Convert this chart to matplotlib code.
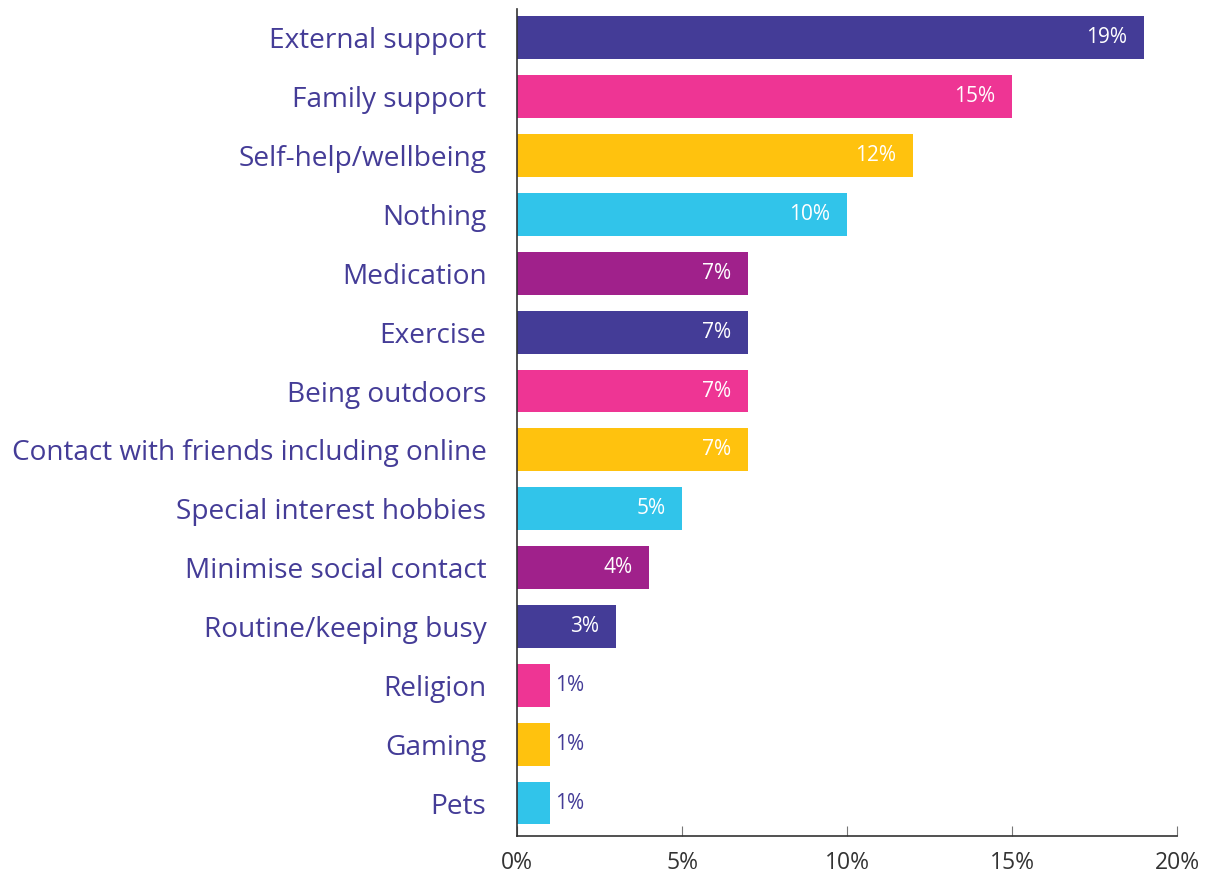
import matplotlib.pyplot as plt

categories = ["External support", "Family support", "Self-help/wellbeing", "Nothing",
              "Medication", "Exercise", "Being outdoors",
              "Contact with friends including online", "Special interest hobbies",
              "Minimise social contact", "Routine/keeping busy", "Religion",
              "Gaming", "Pets"]
values = [19, 15, 12, 10, 7, 7, 7, 7, 5, 4, 3, 1, 1, 1]
palette = ["#443C97", "#EE3594", "#FFC20E", "#31C4EA", "#A0218B"]
ticks = [0, 5, 10, 15, 20]

navy = "#443C97"
plt.rcParams['font.family'] = ['Open Sans', 'DejaVu Sans']

fig = plt.figure(figsize=(12.12, 8.75), dpi=100)
ax = fig.add_axes([0.4266, 0.0446, 0.5445, 0.9451])

ypos = list(range(len(categories)))
colors = [palette[i % len(palette)] for i in ypos]
ax.barh(ypos, values, height=0.73, color=colors)

# white labels inside the bar, navy ones just past the short bars
for y, v in zip(ypos, values):
    if v >= 2:
        ax.text(v - 0.5, y, f"{v}%", ha='right', va='center', color='white', fontsize=15)
    else:
        ax.text(v + 0.15, y, f"{v}%", ha='left', va='center', color=navy, fontsize=15)

ax.set_ylim(len(categories) - 0.44, -0.49)
ax.set_xlim(0, 20)
ax.set_yticks(ypos)
ax.set_yticklabels(categories, fontsize=20.2, color=navy)
ax.set_xticks(ticks)
ax.set_xticklabels([f"{t}%" for t in ticks], fontsize=16.5, color='#333333')

ax.tick_params(axis='y', length=0, pad=22)
ax.tick_params(axis='x', direction='in', length=7, color='#777777', pad=11)
for s in ['top', 'right']:
    ax.spines[s].set_visible(False)
ax.spines['left'].set_color('#333333')
ax.spines['bottom'].set_color('#333333')
ax.spines['left'].set_linewidth(1.2)
ax.spines['bottom'].set_linewidth(1.2)

fig.savefig("out.png", dpi=100)
